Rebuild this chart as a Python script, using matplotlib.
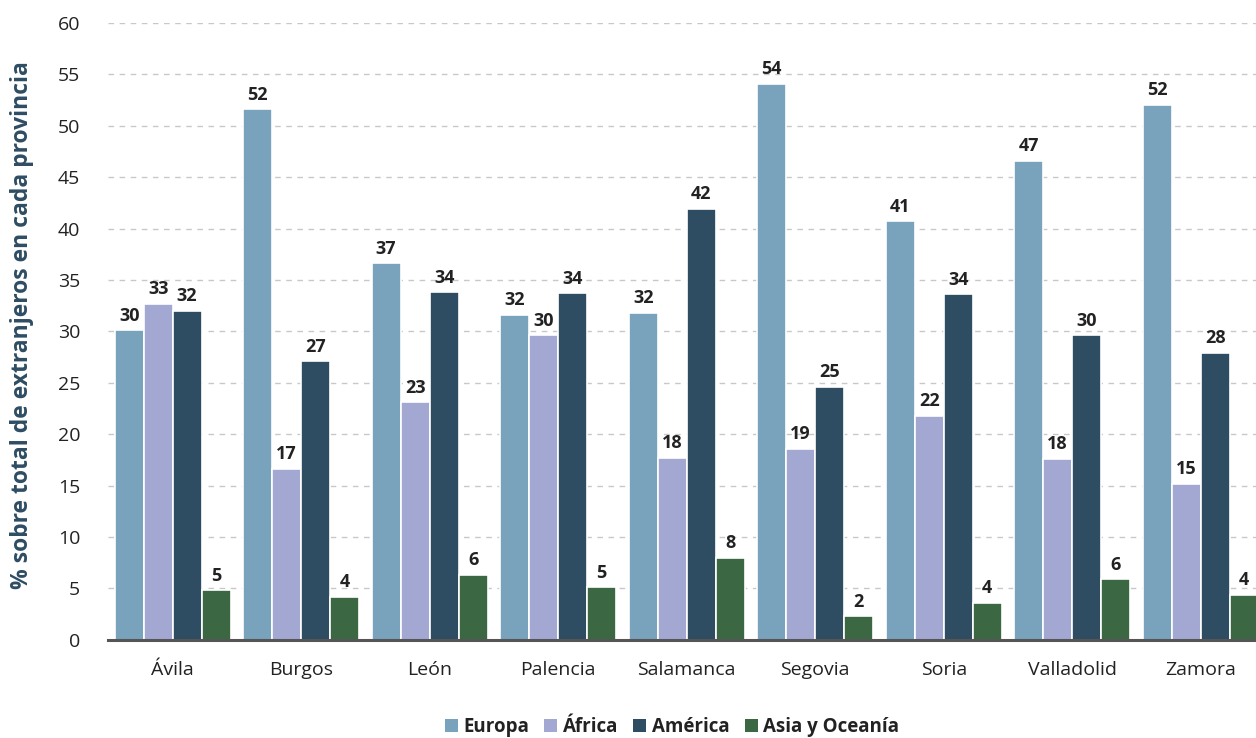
import numpy as np
import matplotlib.pyplot as plt
from matplotlib.patches import Patch

plt.rcParams['font.family'] = ['Open Sans', 'DejaVu Sans']

provincias = ['Ávila', 'Burgos', 'León', 'Palencia', 'Salamanca',
              'Segovia', 'Soria', 'Valladolid', 'Zamora']
europa = [30.1, 51.6, 36.6, 31.6, 31.8, 54.1, 40.7, 46.6, 52.0]
africa = [32.7, 16.6, 23.1, 29.6, 17.7, 18.6, 21.8, 17.6, 15.2]
america = [32.0, 27.1, 33.8, 33.7, 41.9, 24.6, 33.6, 29.6, 27.9]
asia = [4.8, 4.2, 6.3, 5.1, 8.0, 2.3, 3.6, 5.9, 4.4]

series = [('Europa', europa, '#79A2BD'),
          ('África', africa, '#A3A8D3'),
          ('América', america, '#2E4D63'),
          ('Asia y Oceanía', asia, '#3B6843')]

fig = plt.figure(figsize=(12.56, 7.38), dpi=100)
ax = fig.add_axes([0.086, 0.133, 0.914, 0.836])

x = np.arange(len(provincias))
pitch = 0.2257
for i, (name, vals, col) in enumerate(series):
    pos = x + (i - 1.5) * pitch
    bars = ax.bar(pos, vals, width=pitch, color=col, edgecolor='white',
                  linewidth=1.2, zorder=3)
    for b, v in zip(bars, vals):
        ax.text(b.get_x() + b.get_width() / 2, v + 0.55, f'{v:.0f}',
                ha='center', va='bottom', fontsize=13, fontweight='bold',
                color='#222222', zorder=4)

ax.set_ylim(0, 60)
ax.set_xlim(-0.503, 8.43)
ax.set_yticks(range(0, 61, 5))
ax.set_xticks(x)
ax.set_xticklabels(provincias)
ax.tick_params(axis='both', length=0, labelsize=14, colors='#222222')
ax.tick_params(axis='y', pad=20)
ax.tick_params(axis='x', pad=15)
ax.yaxis.grid(True, linestyle=(0, (4, 4)), color='#C8C8C8', linewidth=1, zorder=0)
ax.set_axisbelow(True)
for s in ['top', 'right', 'left']:
    ax.spines[s].set_visible(False)
ax.spines['bottom'].set_color('#555555')
ax.spines['bottom'].set_linewidth(2.2)
ax.spines['bottom'].set_zorder(5)

fig.text(0.0175, 0.56, '% sobre total de extranjeros en cada provincia',
         rotation=90, ha='center', va='center', fontsize=16.5,
         fontweight='bold', color='#2E4D63')

handles = [Patch(facecolor=c, edgecolor='none', label=n) for n, _, c in series]
leg = fig.legend(handles=handles, loc='center', bbox_to_anchor=(0.535, 0.015),
                 ncol=4, frameon=False, handlelength=0.7, handleheight=0.7,
                 handletextpad=0.3, columnspacing=0.8,
                 prop={'size': 13.5, 'weight': 'bold'})
for t in leg.get_texts():
    t.set_color('#222222')

fig.savefig('out.png', dpi=100)
